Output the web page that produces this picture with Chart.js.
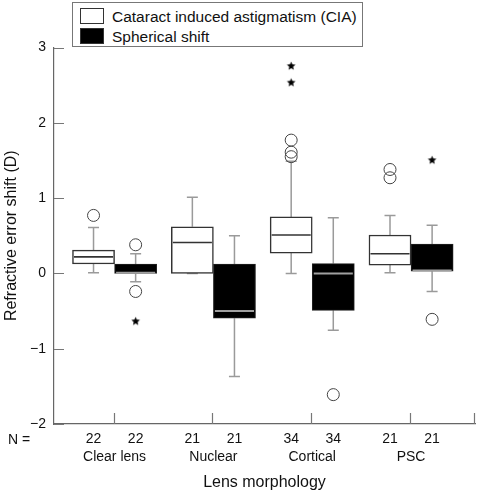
<!DOCTYPE html>
<html>
<head>
<meta charset="utf-8">
<script src="https://cdn.jsdelivr.net/npm/chart.js@4.4.1/dist/chart.umd.min.js"></script>
<style>
  html, body { margin: 0; padding: 0; background: #fff; }
  #wrap { position: relative; width: 482px; height: 494px; }
  #legend {
    position: absolute; left: 72px; top: 2px; width: 291px; height: 45px;
    border: 1px solid #777; background: #fff; box-sizing: border-box;
    font-family: "Liberation Sans", Arial, sans-serif; font-size: 15.5px; color: #111;
  }
  .item { position: absolute; left: 7px; height: 17px; line-height: 17px; white-space: nowrap; }
  .swatch { display: inline-block; width: 24px; height: 16px; box-sizing: border-box;
    border: 1.5px solid #333; vertical-align: top; margin-right: 8px; }
</style>
</head>
<body>
<div id="wrap">
  <canvas id="chart" width="482" height="494"></canvas>
  <div id="legend"></div>
</div>
<script>
// lens morphology groups
const categories = ["Clear lens", "Nuclear", "Cortical", "PSC"];
const seriesNames = ["Cataract induced astigmatism (CIA)", "Spherical shift"];
const yTicks = [-2, -1, 0, 1, 2, 3];

// sample sizes
const ciaN = [22, 21, 34, 21];
const sphN = [22, 21, 34, 21];

// CIA box stats
const ciaMin = [0.01, 0.0, 0.0, 0.01];
const ciaQ1 = [0.125, 0.0, 0.27, 0.11];
const ciaMedian = [0.22, 0.41, 0.51, 0.26];
const ciaQ3 = [0.31, 0.62, 0.75, 0.51];
const ciaMax = [0.61, 1.01, 1.49, 0.77];

// spherical shift box stats
const sphMin = [-0.11, -1.37, -0.755, -0.24];
const sphQ1 = [0.0, -0.595, -0.49, 0.03];
const sphMedian = [0.01, -0.5, 0.0, 0.04];
const sphQ3 = [0.125, 0.125, 0.13, 0.39];
const sphMax = [0.26, 0.5, 0.74, 0.64];

// outliers (circles) and extremes (stars)
const ciaOutliers = [[0.77], [], [1.77, 1.61, 1.55], [1.38, 1.27]];
const sphOutliers = [[0.38, -0.24], [], [-1.61], [-0.61]];
const ciaExtremes = [[], [], [2.76, 2.54], []];
const sphExtremes = [[-0.63], [], [], [1.51]];

const FONT = "'Liberation Sans', Arial, sans-serif";
const HALF = 0.213;          // box offset from group centre
const X_MIN = 0.387, X_MAX = 4.647;

const ciaX = i => i + 1 - HALF;
const sphX = i => i + 1 + HALF;

// legend
const legend = document.getElementById("legend");
seriesNames.forEach((name, i) => {
    const div = document.createElement("div");
    div.className = "item";
    div.style.top = (i === 0 ? 5 : 25) + "px";
    div.innerHTML = `<span class="swatch" style="background:${i === 0 ? "#fff" : "#000"}"></span>${name}`;
    legend.appendChild(div);
});

// filled star used for extreme values
function makeStar(r) {
    const c = document.createElement("canvas");
    const s = Math.ceil(r * 2 + 2);
    c.width = c.height = s;
    const g = c.getContext("2d");
    g.beginPath();
    for (let i = 0; i < 10; i++) {
        const rad = i % 2 ? r * 0.45 : r;
        const a = -Math.PI / 2 + i * Math.PI / 5;
        g.lineTo(s / 2 + rad * Math.cos(a), s / 2 + rad * Math.sin(a) + 0.5);
    }
    g.closePath();
    g.fillStyle = "#000";
    g.fill();
    return c;
}
const starImg = makeStar(4.5);

function pointsFrom(lists, xFn) {
    const pts = [];
    lists.forEach((vals, i) => vals.forEach(v => pts.push({ x: xFn(i), y: v })));
    return pts;
}

// whiskers, caps, medians, inward ticks, "N =" label
const boxPlugin = {
    id: "boxParts",
    beforeDatasetsDraw(chart) {
        const { ctx, scales: { x, y } } = chart;
        const cap = 5.5;
        ctx.save();
        ctx.strokeStyle = "#9a9a9a";
        ctx.lineWidth = 1.5;
        const sets = [[ciaX, ciaMin, ciaQ1, ciaQ3, ciaMax], [sphX, sphMin, sphQ1, sphQ3, sphMax]];
        sets.forEach(([xf, mn, q1, q3, mx]) => {
            categories.forEach((c, i) => {
                const px = x.getPixelForValue(xf(i));
                ctx.beginPath();
                ctx.moveTo(px, y.getPixelForValue(q3[i]));
                ctx.lineTo(px, y.getPixelForValue(mx[i]));
                ctx.moveTo(px - cap, y.getPixelForValue(mx[i]));
                ctx.lineTo(px + cap, y.getPixelForValue(mx[i]));
                ctx.moveTo(px, y.getPixelForValue(q1[i]));
                ctx.lineTo(px, y.getPixelForValue(mn[i]));
                ctx.moveTo(px - cap, y.getPixelForValue(mn[i]));
                ctx.lineTo(px + cap, y.getPixelForValue(mn[i]));
                ctx.stroke();
            });
        });
        ctx.restore();
    },
    afterDatasetsDraw(chart) {
        const { ctx, scales: { x, y } } = chart;
        const w = x.getPixelForValue(HALF * 2) - x.getPixelForValue(0);
        ctx.save();
        [[ciaX, ciaMedian, "#333", 1.6], [sphX, sphMedian, "#a0a0a0", 2]].forEach(([xf, med, col, lw]) => {
            ctx.strokeStyle = col;
            ctx.lineWidth = lw;
            categories.forEach((c, i) => {
                const px = x.getPixelForValue(xf(i));
                const py = y.getPixelForValue(med[i]);
                ctx.beginPath();
                ctx.moveTo(px - w / 2 + 1.5, py);
                ctx.lineTo(px + w / 2 - 1.5, py);
                ctx.stroke();
            });
        });
        ctx.restore();
    },
    afterDraw(chart) {
        const { ctx, scales: { x, y, xN } } = chart;
        ctx.save();
        ctx.strokeStyle = "#777";
        ctx.lineWidth = 1.2;
        ctx.beginPath();
        yTicks.forEach(v => {
            const py = Math.round(y.getPixelForValue(v)) + 0.5;
            ctx.moveTo(x.left, py);
            ctx.lineTo(x.left + 10, py);
        });
        [1, 2, 3, 4, X_MAX].forEach(v => {
            const px = Math.round(x.getPixelForValue(v)) - 0.5;
            ctx.moveTo(px, y.bottom);
            ctx.lineTo(px, y.bottom - 11);
        });
        ctx.stroke();
        ctx.fillStyle = "#111";
        ctx.font = "14px " + FONT;
        ctx.textBaseline = "middle";
        ctx.fillText("N =", 8, xN.top + 16);
        ctx.restore();
    }
};

const nPositions = [];
const nLabels = [];
categories.forEach((c, i) => {
    nPositions.push(ciaX(i), sphX(i));
    nLabels.push(String(ciaN[i]), String(sphN[i]));
});

const tickFont = { family: FONT, size: 14 };

new Chart(document.getElementById("chart"), {
    type: "scatter",
    data: {
        datasets: [
            {
                type: "bar",
                label: seriesNames[0],
                data: categories.map((c, i) => ({ x: ciaX(i), y: [ciaQ1[i], ciaQ3[i]] })),
                backgroundColor: "#fff",
                borderColor: "#333",
                borderWidth: 1.5,
                borderSkipped: false,
                grouped: false,
                barPercentage: 1,
                categoryPercentage: 1
            },
            {
                type: "bar",
                label: seriesNames[1],
                data: categories.map((c, i) => ({ x: sphX(i), y: [sphQ1[i], sphQ3[i]] })),
                backgroundColor: "#000",
                borderColor: "#222",
                borderWidth: 1,
                borderSkipped: false,
                grouped: false,
                barPercentage: 1,
                categoryPercentage: 1
            },
            {
                label: "outliers",
                data: pointsFrom(ciaOutliers, ciaX).concat(pointsFrom(sphOutliers, sphX)),
                pointStyle: "circle",
                pointRadius: 6,
                borderColor: "#444",
                backgroundColor: "rgba(0,0,0,0)",
                borderWidth: 1
            },
            {
                label: "extremes",
                data: pointsFrom(ciaExtremes, ciaX).concat(pointsFrom(sphExtremes, sphX)),
                pointStyle: starImg
            }
        ]
    },
    options: {
        responsive: false,
        animation: false,
        layout: { padding: { top: 47.5, right: 2, bottom: 0, left: 0 } },
        plugins: {
            legend: { display: false },
            tooltip: { enabled: false }
        },
        scales: {
            x: {
                type: "linear",
                min: X_MIN,
                max: X_MAX,
                offset: false,
                grid: { display: false, drawTicks: false, offset: false },
                border: { display: true, color: "#666", width: 1.2 },
                ticks: { display: false },
                afterFit: s => { s.height = 0; }
            },
            xN: {
                type: "linear",
                position: "bottom",
                weight: 1,
                min: X_MIN,
                max: X_MAX,
                grid: { display: false, drawTicks: false },
                border: { display: false },
                afterBuildTicks: s => { s.ticks = nPositions.map(v => ({ value: v })); },
                ticks: {
                    autoSkip: false,
                    maxRotation: 0,
                    padding: 7,
                    color: "#111",
                    font: tickFont,
                    callback: (v, i) => nLabels[i]
                },
                afterFit: s => { s.height = 24; }
            },
            xCat: {
                type: "linear",
                position: "bottom",
                weight: 2,
                min: X_MIN,
                max: X_MAX,
                grid: { display: false, drawTicks: false },
                border: { display: false },
                afterBuildTicks: s => { s.ticks = categories.map((c, i) => ({ value: i + 1 })); },
                ticks: {
                    autoSkip: false,
                    maxRotation: 0,
                    padding: 1,
                    color: "#111",
                    font: tickFont,
                    callback: (v, i) => categories[i]
                },
                title: {
                    display: true,
                    text: "Lens morphology",
                    color: "#111",
                    font: { family: FONT, size: 16 },
                    padding: { top: 0, bottom: 1.5 }
                },
                afterFit: s => { s.height = 46; }
            },
            y: {
                min: -2,
                max: 3,
                grid: { display: false, drawTicks: false },
                border: { display: true, color: "#666", width: 1.2 },
                afterBuildTicks: s => { s.ticks = yTicks.map(v => ({ value: v })); },
                ticks: {
                    padding: 8,
                    color: "#111",
                    font: tickFont,
                    callback: v => (v < 0 ? "\u2212" + Math.abs(v) : String(v))
                },
                title: {
                    display: true,
                    text: "Refractive error shift (D)",
                    color: "#111",
                    font: { family: FONT, size: 16 },
                    padding: { top: 2, bottom: 0 }
                },
                afterFit: s => { s.width = 54; }
            }
        }
    },
    plugins: [boxPlugin]
});
</script>
</body>
</html>
